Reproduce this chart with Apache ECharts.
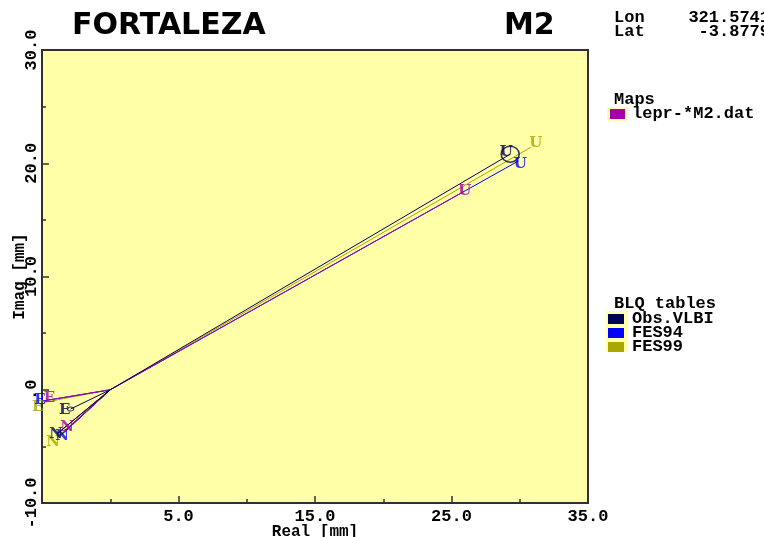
<!DOCTYPE html>
<html><head><meta charset="utf-8">
<script src="https://cdn.jsdelivr.net/npm/echarts@6/dist/echarts.min.js"></script>
<style>html,body{margin:0;padding:0;background:#fff}#c{width:764px;height:537px}</style>
</head><body><div id="c"></div>
<script>
// ---- data (mm), phasor end points for components E, N, U ----
const components = ['E', 'N', 'U'];
const origin = [0, 0];
const obsVLBI = [[-2.9, -1.7], [-3.9, -3.9], [29.3, 20.8]];
const fes94   = [[-5.0, -1.0], [-3.6, -4.0], [29.9, 20.2]];
const fes99   = [[-4.8, -1.1], [-3.9, -4.2], [30.8, 21.4]];
const lepr    = [[-4.75, -0.95], [-3.3, -3.6], [25.9, 17.5]];
const xTicks = [-5, 5, 15, 25, 35];
const yTicks = [-10, 0, 10, 20, 30];
const title = 'FORTALEZA';
const wave = 'M2';
const lon = '321.5741';
const lat = '-3.8779';

const C = { navy: '#000058', blue: '#0000ff', olive: '#a8a800', mag: '#a800a8', bg: '#ffffa8' };
const monoFont = '"Liberation Mono", "DejaVu Sans Mono", monospace';

function vecSeries(name, pts, color, offsets) {
  const lineData = [pts[0], origin, pts[1], origin, pts[2]];
  return [
    { name: name, type: 'line', data: lineData, symbol: 'none', lineStyle: { color: color, width: 1 }, z: 3, animation: false },
    { name: name + '-lbl', type: 'scatter', symbolSize: 1, itemStyle: { color: 'rgba(0,0,0,0)' }, z: 5, animation: false,
      data: pts.map((p, i) => ({ value: p, label: { show: true, position: 'inside', formatter: components[i], offset: offsets[i],
        color: color, fontFamily: '"DejaVu Serif", "Liberation Serif", serif', fontWeight: 'bold', fontSize: 15 } })) }
  ];
}

const series = [].concat(
  vecSeries('FES99', fes99, C.olive, [[-7, 5], [-4, 5], [5, -4]]),
  vecSeries('FES94', fes94, C.blue, [[-2, -1], [1, 1], [2, 3]]),
  vecSeries('lepr', lepr, C.mag, [[4, -2], [2, -3], [1, 0]]),
  vecSeries('Obs.VLBI', obsVLBI, C.navy, [[-6, 1], [-1, 0], [-4, -2]]),
  [{ name: 'ellipse', type: 'scatter', symbol: 'circle', symbolSize: [18, 16], z: 4, animation: false,
     itemStyle: { color: 'rgba(0,0,0,0)', borderColor: C.navy, borderWidth: 1.5 },
     data: [obsVLBI[2]] },
   { name: 'ellipseE', type: 'scatter', symbol: 'circle', symbolSize: [6, 4], z: 4, animation: false,
     itemStyle: { color: 'rgba(0,0,0,0)', borderColor: C.navy, borderWidth: 1 },
     data: [obsVLBI[0]] }]
);

const txt = (s, x, y, extra) => Object.assign({ type: 'text', left: x, top: y,
  style: { text: s, fill: '#000', font: 'bold 17px ' + monoFont } }, extra || {});

const axisCommon = {
  axisLine: { show: true, onZero: false, lineStyle: { color: '#303030', width: 2 } },
  axisTick: { show: true, inside: true, length: 7, lineStyle: { color: '#303030', width: 1.5 } },
  minorTick: { show: true, splitNumber: 2, length: 4, lineStyle: { color: '#303030', width: 1.5 } },
  splitLine: { show: false }, minorSplitLine: { show: false }
};

const chart = echarts.init(document.getElementById('c'), null, { renderer: 'canvas' });
chart.setOption({
  animation: false,
  backgroundColor: '#fff',
  grid: { left: 42, right: 176, top: 50, bottom: 34, show: true, backgroundColor: C.bg, borderColor: '#303030', borderWidth: 2,
          containLabel: false, outerBoundsMode: 'none' },
  xAxis: Object.assign({
    type: 'value', min: xTicks[0], max: xTicks[xTicks.length - 1], interval: 10,
    name: 'Real [mm]', nameLocation: 'middle', nameGap: 21, nameMoveOverlap: false,
    nameTextStyle: { fontFamily: monoFont, fontWeight: 'bold', fontSize: 16, color: '#000' },
    axisLabel: { showMinLabel: false, margin: 5, color: '#000', fontFamily: monoFont, fontWeight: 'bold', fontSize: 17,
      formatter: v => v.toFixed(1) }
  }, axisCommon),
  yAxis: Object.assign({
    type: 'value', min: yTicks[0], max: yTicks[yTicks.length - 1], interval: 10,
    name: 'Imag [mm]', nameLocation: 'middle', nameGap: 14, nameRotate: 90, nameMoveOverlap: false,
    nameTextStyle: { fontFamily: monoFont, fontWeight: 'bold', fontSize: 16, color: '#000' },
    axisLabel: { rotate: 90, margin: 2, color: '#000', fontFamily: monoFont, fontWeight: 'bold', fontSize: 17,
      formatter: v => v === 0 ? '.0' : v.toFixed(1) }
  }, axisCommon),
  series: series,
  graphic: [
    { type: 'text', left: 72, top: 11, style: { text: title, fill: '#000', font: 'bold 30px "DejaVu Sans", sans-serif' } },
    { type: 'text', left: 504, top: 11, style: { text: wave, fill: '#000', font: 'bold 30px "DejaVu Sans", sans-serif' } },
    txt('Lon', 614, 9), txt('Lat', 614, 23),
    { type: 'text', right: -6, top: 9, style: { text: lon, fill: '#000', font: 'bold 17px ' + monoFont, align: 'right' } },
    { type: 'text', right: -6, top: 23, style: { text: lat, fill: '#000', font: 'bold 17px ' + monoFont, align: 'right' } },
    txt('Maps', 614, 91),
    { type: 'rect', shape: { x: 607, y: 107, width: 21, height: 14 }, style: { fill: C.bg } },
    { type: 'rect', shape: { x: 610, y: 109, width: 15, height: 10 }, style: { fill: C.mag } },
    txt('lepr-*M2.dat', 632, 105),
    txt('BLQ tables', 614, 295),
    { type: 'rect', shape: { x: 606, y: 311, width: 22, height: 41 }, style: { fill: C.bg } },
    { type: 'rect', shape: { x: 608, y: 314, width: 16, height: 10 }, style: { fill: C.navy } },
    { type: 'rect', shape: { x: 608, y: 328, width: 16, height: 10 }, style: { fill: C.blue } },
    { type: 'rect', shape: { x: 608, y: 342, width: 16, height: 10 }, style: { fill: C.olive } },
    txt('Obs.VLBI', 632, 310), txt('FES94', 632, 324), txt('FES99', 632, 338)
  ]
});
</script></body></html>
